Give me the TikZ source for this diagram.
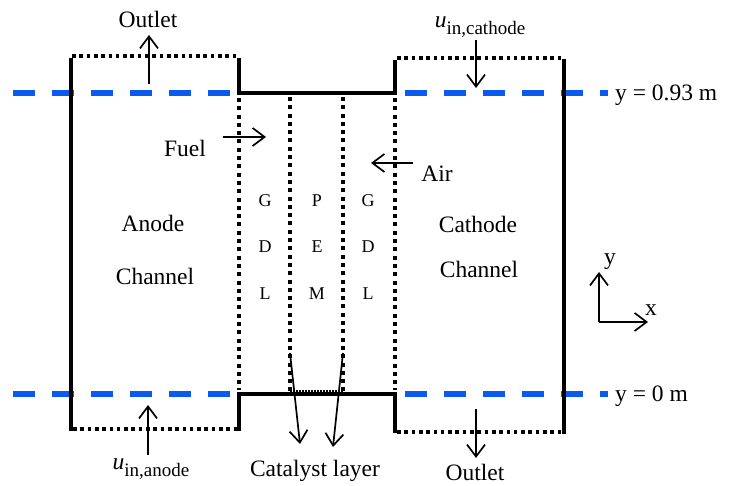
\documentclass[tikz,border=0pt]{standalone}
\usepackage{fontspec}
\setmainfont{Liberation Serif}
\usetikzlibrary{arrows.meta}
\definecolor{lineblue}{RGB}{10,90,240}
\begin{document}
\begin{tikzpicture}[x=1pt,y=-1pt,
  wall/.style={line width=4.5pt},
  vdots/.style={line width=4pt, dash pattern=on 4pt off 4.3pt},
  hdots/.style={line width=3.6pt, dash pattern=on 3.6pt off 3.7pt},
  thindots/.style={line width=1.6pt, dash pattern=on 1.6pt off 1.4pt},
  blueline/.style={line width=6pt, draw=lineblue, dash pattern=on 22pt off 17pt},
  flow/.style={line width=1.7pt, -{Straight Barb[length=12pt,width=18pt,line width=1.7pt]}},
  lbl/.style={font=\fontsize{23.5}{28}\selectfont, inner sep=0pt, anchor=base},
  layer/.style={font=\fontsize{18}{21}\selectfont, inner sep=0pt, anchor=base}]
\useasboundingbox (0,0) rectangle (729,486);

% blue reference lines
\draw[blueline] (13,93) -- (239,93);
\draw[blueline] (405,93) -- (608,93);
\draw[blueline] (13,394) -- (239,394);
\draw[blueline] (405,394) -- (608,394);

% dotted boundaries
\draw[hdots] (72,56) -- (239,56);
\draw[hdots] (73,429) -- (238,429);
\draw[hdots] (397,58) -- (563,58);
\draw[hdots] (397,432) -- (562,432);
\draw[vdots] (239,98) -- (239,390);
\draw[vdots] (290,97) -- (290,391);
\draw[vdots] (343,97) -- (343,391);
\draw[vdots] (395,98) -- (395,390);
\draw[thindots] (290,391) -- (343,391);

% walls
\draw[wall] (71,58) -- (71,431);
\draw[wall] (564,59) -- (564,434);
\draw[wall] (239,58) -- (239,93) -- (395,93) -- (395,60);
\draw[wall] (239,431) -- (239,394) -- (395,394) -- (395,433);

% labels
\node[lbl] (outT) at (148,28) {Outlet};
\node[lbl] (ucath) at (480,28) {\textit{u}\raisebox{-7pt}{\fontsize{19}{22}\selectfont in,cathode}};
\node[lbl] (fuel) at (185,157) {Fuel};
\node[lbl] (air) at (437,182) {Air};
\node[lbl] (anode) at (153,232) {Anode};
\node[lbl] (chA) at (155,285) {Channel};
\node[lbl] (cathode) at (478,233) {Cathode};
\node[lbl] (chC) at (479,278) {Channel};
\node[layer] (g1) at (265,207) {G};
\node[layer] (d1) at (265,253) {D};
\node[layer] (l1) at (265,300) {L};
\node[layer] (p) at (317,207) {P};
\node[layer] (e) at (317,253) {E};
\node[layer] (m) at (317,300) {M};
\node[layer] (g2) at (368,207) {G};
\node[layer] (d2) at (368,253) {D};
\node[layer] (l2) at (368,300) {L};
\node[lbl, anchor=base west] (y93) at (615,101) {y = 0.93 m};
\node[lbl, anchor=base west] (y0) at (615,402) {y = 0 m};
\node[lbl] (uan) at (151,470) {\textit{u}\raisebox{-7pt}{\fontsize{19}{22}\selectfont in,anode}};
\node[lbl] (cat) at (315,476) {Catalyst layer};
\node[lbl] (outB) at (475,481) {Outlet};
\node[lbl] (ylab) at (610,265) {y};
\node[lbl] (xlab) at (651,316) {x};

% flow arrows
\coordinate (oT1) at (149,84); \coordinate (oT2) at (149,35);
\coordinate (uc1) at (476,40); \coordinate (uc2) at (476,88);
\coordinate (f1) at (223,137); \coordinate (f2) at (266,137);
\coordinate (a1) at (413,163); \coordinate (a2) at (371,163);
\coordinate (ua1) at (148,455); \coordinate (ua2) at (148,405);
\coordinate (c1s) at (290,353); \coordinate (c1e) at (300,444);
\coordinate (c2s) at (343,353); \coordinate (c2e) at (333,447);
\coordinate (ob1) at (476,409); \coordinate (ob2) at (476,458);
\draw[flow] (oT1) -- (oT2);
\draw[flow] (uc1) -- (uc2);
\draw[flow] (f1) -- (f2);
\draw[flow] (a1) -- (a2);
\draw[flow] (ua1) -- (ua2);
\draw[flow] (c1s) -- (c1e);
\draw[flow] (c2s) -- (c2e);
\draw[flow] (ob1) -- (ob2);

% axes
\coordinate (O) at (599,322);
\coordinate (yt) at (599,272);
\coordinate (xt) at (648,322);
\draw[flow] (O) -- (yt);
\draw[flow] (O) -- (xt);
\end{tikzpicture}
\end{document}
